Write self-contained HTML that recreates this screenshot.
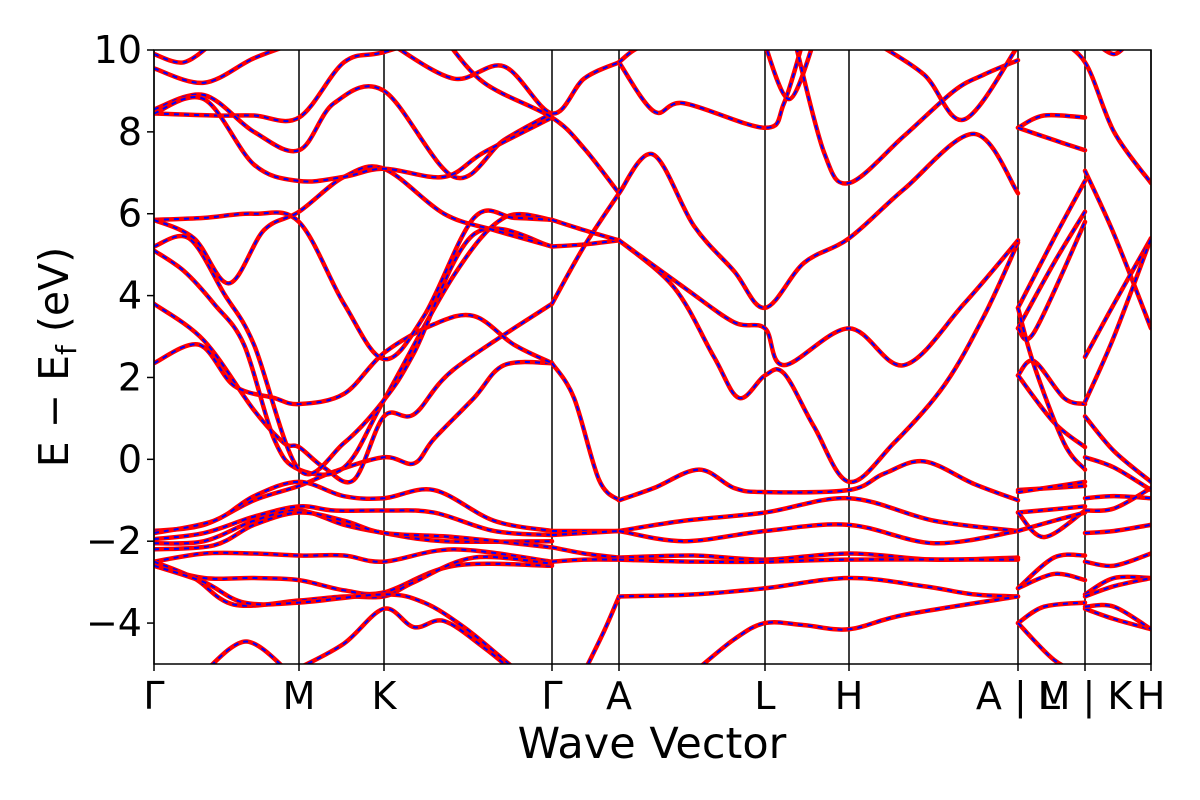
<!DOCTYPE html>
<html><head><meta charset="utf-8"><style>
html,body{margin:0;padding:0;background:#fff;}
svg{display:block;font-family:"DejaVu Sans","Liberation Sans",sans-serif;}
</style></head><body>
<svg id="chart" width="1200" height="800" viewBox="0 0 1200 800" xmlns="http://www.w3.org/2000/svg">
<defs><clipPath id="clip"><rect x="154" y="50" width="997" height="614"/></clipPath></defs>
<g id="grid"></g>
<g id="bands" clip-path="url(#clip)"></g>
<rect x="154" y="50" width="997" height="614" fill="none" stroke="#000" stroke-width="1.5"/>
<g id="yticks"></g>
<g id="xticks"></g>
<text x="652" y="758" font-size="43" text-anchor="middle">Wave Vector</text>
<text transform="translate(68,357) rotate(-90)" font-size="41" text-anchor="middle">E − E<tspan font-size="28" dy="8">f</tspan><tspan dy="-8"> (eV)</tspan></text>
</svg>
<script>
const kLabels = ["Γ","M","K","Γ","A","L","H","A | L","M | K","H"];
const kPoints = [0,1.45,2.30,3.98,4.65,6.11,6.95,8.64,9.31,9.97];
const yTickValues = [-4,-2,0,2,4,6,8,10];
const yMin=-5, yMax=10, kMax=9.97;
// bands: arrays of [k, E(eV)]
const bandsGM = [
 [[0,-1.75],[0.5,-1.6],[1.0,-1.0],[1.45,-0.65],[1.8,-0.3],[2.30,0.05],[2.6,-0.1],[2.8,0.5],[3.2,1.5],[3.5,2.3],[3.98,2.35]],
 [[0,-1.8],[0.6,-1.5],[1.0,-0.9],[1.45,-0.55],[1.9,-0.9],[2.30,-0.95],[2.8,-0.75],[3.4,-1.5],[3.98,-1.75]],
 [[0,-1.95],[0.5,-1.8],[1.0,-1.4],[1.45,-1.15],[1.8,-1.25],[2.30,-1.25],[2.8,-1.3],[3.4,-1.75],[3.98,-1.85]],
 [[0,-2.05],[0.5,-2.0],[1.0,-1.5],[1.45,-1.25],[1.9,-1.6],[2.30,-1.8],[2.9,-2.0],[3.98,-2.0]],
 [[0,-2.2],[0.6,-2.1],[1.0,-1.6],[1.45,-1.3],[1.9,-1.5],[2.30,-1.8],[3.0,-1.9],[3.98,-2.15]],
 [[0,-2.5],[0.5,-2.3],[1.0,-2.3],[1.45,-2.35],[1.9,-2.35],[2.30,-2.5],[3.0,-2.2],[3.98,-2.5]],
 [[0,-2.6],[0.5,-2.9],[1.0,-2.9],[1.45,-2.95],[1.9,-3.2],[2.30,-3.25],[3.0,-2.6],[3.98,-2.6]],
 [[0,-2.5],[0.4,-2.9],[0.8,-3.55],[1.45,-3.45],[1.9,-3.35],[2.30,-3.35],[2.6,-3.0],[3.2,-2.4],[3.98,-2.55]],
 [[0,-2.6],[0.5,-3.0],[0.9,-3.5],[1.45,-3.5],[2.30,-3.3],[2.7,-3.5],[3.1,-4.1],[3.5,-4.9],[3.7,-5.3]],
 [[0.5,-5.2],[0.92,-4.45],[1.35,-5.2]],
 [[1.45,-5.1],[1.9,-4.5],[2.30,-3.65],[2.6,-4.1],[2.9,-3.95],[3.3,-4.6],[3.6,-5.2]],
 [[0,3.8],[0.5,2.9],[1.0,1.2],[1.3,0.4],[1.45,0.3],[1.7,-0.2],[2.0,-0.5],[2.30,1.05],[2.6,1.1],[3.0,2.2],[3.98,3.8]],
 [[0,2.35],[0.45,2.8],[0.8,1.8],[1.2,1.5],[1.45,1.35],[1.9,1.6],[2.30,2.6],[2.8,3.3],[3.2,3.5],[3.6,2.8],[3.98,2.35]],
 [[0,5.1],[0.3,4.6],[0.6,3.8],[0.9,2.8],[1.2,0.5],[1.45,-0.25],[1.9,-0.2],[2.30,1.45],[3.0,4.5],[3.5,5.9],[3.98,5.85]],
 [[0,5.2],[0.35,5.4],[0.7,4.05],[1.0,2.8],[1.45,-0.25],[1.9,0.4],[2.30,1.45],[2.6,2.6],[3.2,5.5],[3.98,5.2]],
 [[0,5.85],[0.5,5.9],[1.0,6.0],[1.45,5.8],[1.9,3.8],[2.30,2.45],[2.7,3.5],[3.2,5.9],[3.6,5.9],[3.98,5.85]],
 [[0,5.85],[0.4,5.4],[0.75,4.3],[1.1,5.6],[1.45,6.05],[1.9,6.9],[2.30,7.1],[2.9,6.0],[3.4,5.6],[3.98,5.2]],
 [[0,8.45],[0.6,8.4],[1.0,8.4],[1.45,8.35],[1.9,9.7],[2.30,9.95],[3.0,10.5]],
 [[0,8.55],[0.5,8.9],[1.0,8.0],[1.45,7.55],[1.8,8.7],[2.30,9.0],[3.0,6.9],[3.5,7.8],[3.98,8.45]],
 [[0,8.45],[0.5,8.8],[1.0,7.2],[1.45,6.8],[1.9,6.9],[2.30,7.1],[2.9,6.9],[3.3,7.5],[3.98,8.35]],
 [[0,9.55],[0.5,9.2],[1.0,9.8],[1.45,10.2]],
 [[0,9.9],[0.3,9.7],[0.6,10.2]],
 [[2.4,10.1],[3.0,9.3],[3.5,9.6],[3.98,8.45],[4.3,9.3],[4.65,9.7]],
 [[2.9,10.3],[3.3,9.2],[3.98,8.35],[4.3,7.6],[4.65,6.5]],
 [[3.98,5.2],[4.3,5.25],[4.65,5.35]],
 [[3.98,3.8],[4.3,5.2],[4.65,6.5]],
 [[3.98,2.35],[4.2,1.5],[4.45,-0.5],[4.65,-1.0]],
 [[3.98,-1.75],[4.3,-1.75],[4.65,-1.75]],
 [[3.98,-1.85],[4.3,-1.8],[4.65,-1.75]],
 [[3.98,-2.15],[4.3,-2.3],[4.65,-2.4]],
 [[3.98,-2.5],[4.3,-2.45],[4.65,-2.45]],
 [[4.3,-5.2],[4.5,-4.2],[4.65,-3.35]],
 [[3.98,5.85],[4.3,5.6],[4.65,5.35]]
];
const bandsALH = [
 [[4.65,-1.0],[5.0,-0.7],[5.45,-0.25],[5.8,-0.7],[6.11,-0.8],[6.95,-0.75],[7.3,-0.35],[7.7,-0.05],[8.2,-0.6],[8.64,-1.0]],
 [[4.65,-1.75],[5.3,-1.5],[6.11,-1.3],[6.95,-0.95],[7.8,-1.5],[8.64,-1.75]],
 [[4.65,-1.75],[5.3,-2.0],[6.11,-1.75],[6.95,-1.6],[7.8,-2.05],[8.64,-1.75]],
 [[4.65,-2.4],[5.4,-2.35],[6.11,-2.45],[6.95,-2.3],[7.8,-2.45],[8.64,-2.4]],
 [[4.65,-2.45],[5.4,-2.5],[6.11,-2.5],[6.95,-2.45],[8.64,-2.45]],
 [[4.65,-3.35],[5.4,-3.3],[6.11,-3.15],[6.95,-2.9],[7.7,-3.1],[8.2,-3.3],[8.64,-3.35]],
 [[5.4,-5.2],[5.8,-4.4],[6.11,-4.0],[6.5,-4.05],[6.95,-4.15],[7.5,-3.8],[8.64,-3.35]],
 [[4.65,5.35],[5.2,4.2],[5.6,2.5],[5.85,1.5],[6.11,2.05],[6.3,2.1],[6.6,0.8],[6.95,-0.55],[7.4,0.4],[7.9,1.8],[8.3,3.5],[8.64,5.3]],
 [[4.65,6.5],[4.99,7.45],[5.4,5.7],[5.8,4.6],[6.11,3.7],[6.5,4.8],[6.95,5.4],[7.5,6.6],[8.2,7.95],[8.64,6.5]],
 [[4.65,5.35],[5.3,4.2],[5.8,3.35],[6.11,3.2],[6.3,2.3],[6.95,3.2],[7.5,2.3],[8.1,3.8],[8.64,5.35]],
 [[4.65,9.7],[5.0,8.5],[5.3,8.7],[6.11,8.1],[6.3,8.7],[6.5,10.3]],
 [[6.1,10.2],[6.35,8.8],[6.6,10.2]],
 [[6.4,10.3],[6.7,7.5],[6.95,6.75],[7.5,7.9],[8.0,9.0],[8.3,9.4],[8.64,9.75]],
 [[7.2,10.2],[7.7,9.4],[8.1,8.3],[8.64,10.1]],
 [[4.65,9.7],[4.8,10.0],[5.0,10.2]]
];
const bandsLMKH = [
 [[8.64,8.1],[8.9,8.4],[9.31,8.35]],
 [[8.64,8.1],[9.0,7.8],[9.31,7.55]],
 [[8.64,3.7],[9.0,5.4],[9.31,6.8]],
 [[8.64,3.2],[9.0,4.8],[9.31,6.05]],
 [[8.64,3.2],[8.8,3.1],[9.31,5.8]],
 [[8.64,2.05],[8.8,2.4],[9.1,1.5],[9.31,1.35]],
 [[8.64,2.05],[9.0,0.9],[9.31,0.3]],
 [[8.64,3.7],[8.8,2.3],[9.1,0.4],[9.31,-0.25]],
 [[8.64,-0.75],[9.31,-0.65]],
 [[8.64,-0.8],[9.31,-0.55]],
 [[8.64,-1.3],[9.31,-1.15]],
 [[8.64,-1.3],[8.9,-1.9],[9.31,-1.25]],
 [[8.64,-1.75],[9.0,-1.5],[9.31,-1.3]],
 [[8.64,-3.15],[9.0,-2.4],[9.31,-2.35]],
 [[8.64,-3.15],[9.0,-2.8],[9.31,-2.95]],
 [[8.64,-4.0],[8.9,-3.6],[9.31,-3.5]],
 [[8.64,-4.0],[9.0,-4.9],[9.31,-5.3]],
 [[9.0,10.3],[9.31,9.7],[9.6,8.0],[9.97,6.75]],
 [[9.31,7.05],[9.6,5.5],[9.97,3.2]],
 [[9.31,2.5],[9.6,3.8],[9.97,5.4]],
 [[9.31,1.4],[9.6,3.0],[9.97,5.4]],
 [[9.31,1.05],[9.6,0.2],[9.97,-0.55]],
 [[9.31,0.05],[9.6,-0.2],[9.97,-0.75]],
 [[9.31,-0.95],[9.6,-0.9],[9.97,-0.95]],
 [[9.31,-1.25],[9.6,-1.2],[9.97,-0.7]],
 [[9.31,-1.8],[9.6,-1.75],[9.97,-1.6]],
 [[9.31,-2.5],[9.6,-2.6],[9.97,-2.3]],
 [[9.31,-3.3],[9.6,-2.9],[9.97,-2.9]],
 [[9.31,-3.35],[9.6,-3.1],[9.97,-2.9]],
 [[9.31,-3.65],[9.6,-3.9],[9.97,-4.15]],
 [[9.31,-3.6],[9.6,-3.6],[9.97,-4.15]],
 [[9.4,10.2],[9.6,9.9],[9.75,10.2]]
];
const X0=154,X1=1151,Y0=50,Y1=664;
const xs=k=>X0+(k/kMax)*(X1-X0);
const ys=e=>Y1-(e-yMin)/(yMax-yMin)*(Y1-Y0);
const NS="http://www.w3.org/2000/svg";
function mk(tag,attrs,parent){const el=document.createElementNS(NS,tag);for(const a in attrs)el.setAttribute(a,attrs[a]);parent.appendChild(el);return el;}
function pathD(pts){
  const p=pts.map(q=>[xs(q[0]),ys(q[1])]);
  let d="M"+p[0][0]+","+p[0][1];
  for(let i=0;i<p.length-1;i++){
    const a=p[i-1]||p[i],b=p[i],c=p[i+1],e=p[i+2]||c;
    const c1=[b[0]+(c[0]-a[0])/6,b[1]+(c[1]-a[1])/6];
    const c2=[c[0]-(e[0]-b[0])/6,c[1]-(e[1]-b[1])/6];
    d+=" C"+c1[0]+","+c1[1]+" "+c2[0]+","+c2[1]+" "+c[0]+","+c[1];
  }
  return d;
}
const grid=document.getElementById('grid');
kPoints.forEach((k,i)=>{
  const l=mk('line',{x1:xs(k),x2:xs(k),y1:Y0,y2:Y1,stroke:'#000','stroke-width':1.5},grid);
  
  
});
const bg=document.getElementById('bands');
[bandsGM,bandsALH,bandsLMKH].forEach((set,si)=>set.forEach((b,bi)=>{
  const d=pathD(b);
  const r=mk('path',{d:d,fill:'none',stroke:'#ff0000','stroke-width':4.5,'stroke-linecap':'round'},bg);
  
  
  const u=mk('path',{d:d,fill:'none',stroke:'#0000ff','stroke-width':2,'stroke-dasharray':'5,5'},bg);
  
  
}));
const yt=document.getElementById('yticks');
yTickValues.forEach(v=>{
  const t=mk('line',{x1:X0-7,x2:X0,y1:ys(v),y2:ys(v),stroke:'#000','stroke-width':1.5},yt);
  
  
  const tx=mk('text',{x:X0-12,y:ys(v)+13,'font-size':38,'text-anchor':'end'},yt);
  tx.textContent=(v<0?'−':'')+Math.abs(v);
  
  
});
const xt=document.getElementById('xticks');
kPoints.forEach((k,i)=>{
  const t=mk('line',{x1:xs(k),x2:xs(k),y1:Y1,y2:Y1+7,stroke:'#000','stroke-width':1.5},xt);
  
  
  const tx=mk('text',{x:xs(k),y:Y1+45,'font-size':38,'text-anchor':'middle'},xt);
  tx.textContent=kLabels[i];
  
  
});
</script>
</body></html>
